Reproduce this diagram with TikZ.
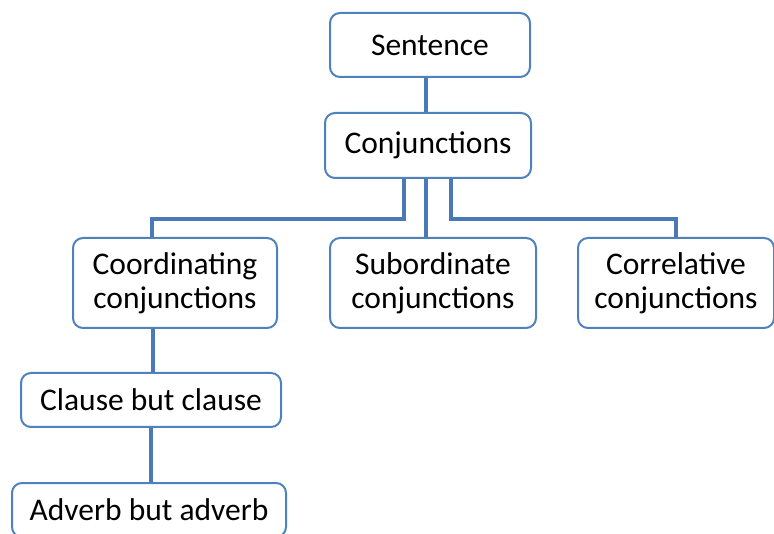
\documentclass[tikz,border=0pt]{standalone}
\usepackage{fontspec}
\setmainfont{Carlito}
\definecolor{boxblue}{HTML}{4F81BD}
\definecolor{linkblue}{HTML}{4A7AB5}

\begin{document}
\begin{tikzpicture}[x=1pt,y=-1pt]
    \useasboundingbox (0,0) rectangle (774,534);
    \begin{scope}[all/.style={draw=boxblue,fill=white,rounded corners=10pt,line width=2pt,inner sep=0pt,align=center,font=\fontsize{31.5}{34}\selectfont},link/.style={draw=linkblue,line width=4pt}]
        \node[all, minimum width=200pt, minimum height=64pt] (sent) at (430, 45) {Sentence};
        \node[all, minimum width=206pt, minimum height=65pt] (conj) at (428, 145.5) {Conjunctions};
        \node[all, minimum width=204pt, minimum height=90pt] (coord) at (175, 283) {Coordinating\\conjunctions};
        \node[all, minimum width=206pt, minimum height=90pt] (sub) at (433, 283) {Subordinate\\conjunctions};
        \node[all, minimum width=196pt, minimum height=90pt] (corr) at (676, 283) {Correlative\\conjunctions};
        \node[all, minimum width=260pt, minimum height=54pt] (clause) at (151, 400) {Clause but clause};
        \node[all, minimum width=274pt, minimum height=54pt] (adv) at (149, 510) {Adverb but adverb};
        \begin{scope}[link]
        \draw ([xshift=-2pt]conj.north |- sent.south) -- ([xshift=-2pt]conj.north);
        \draw ([xshift=-24pt]conj.south) -- ++(0,40) -| ([xshift=-23pt]coord.north);
        \draw ([xshift=-2pt]conj.south) -- ([xshift=-2pt]conj.south |- sub.north);
        \draw ([xshift=23pt]conj.south) -- ++(0,40) -| (corr.north);
        \draw ([xshift=2pt]clause.north |- coord.south) -- ([xshift=2pt]clause.north);
        \draw ([xshift=2pt]adv.north |- clause.south) -- ([xshift=2pt]adv.north);
        \end{scope}
    \end{scope}
\end{tikzpicture}
\end{document}
